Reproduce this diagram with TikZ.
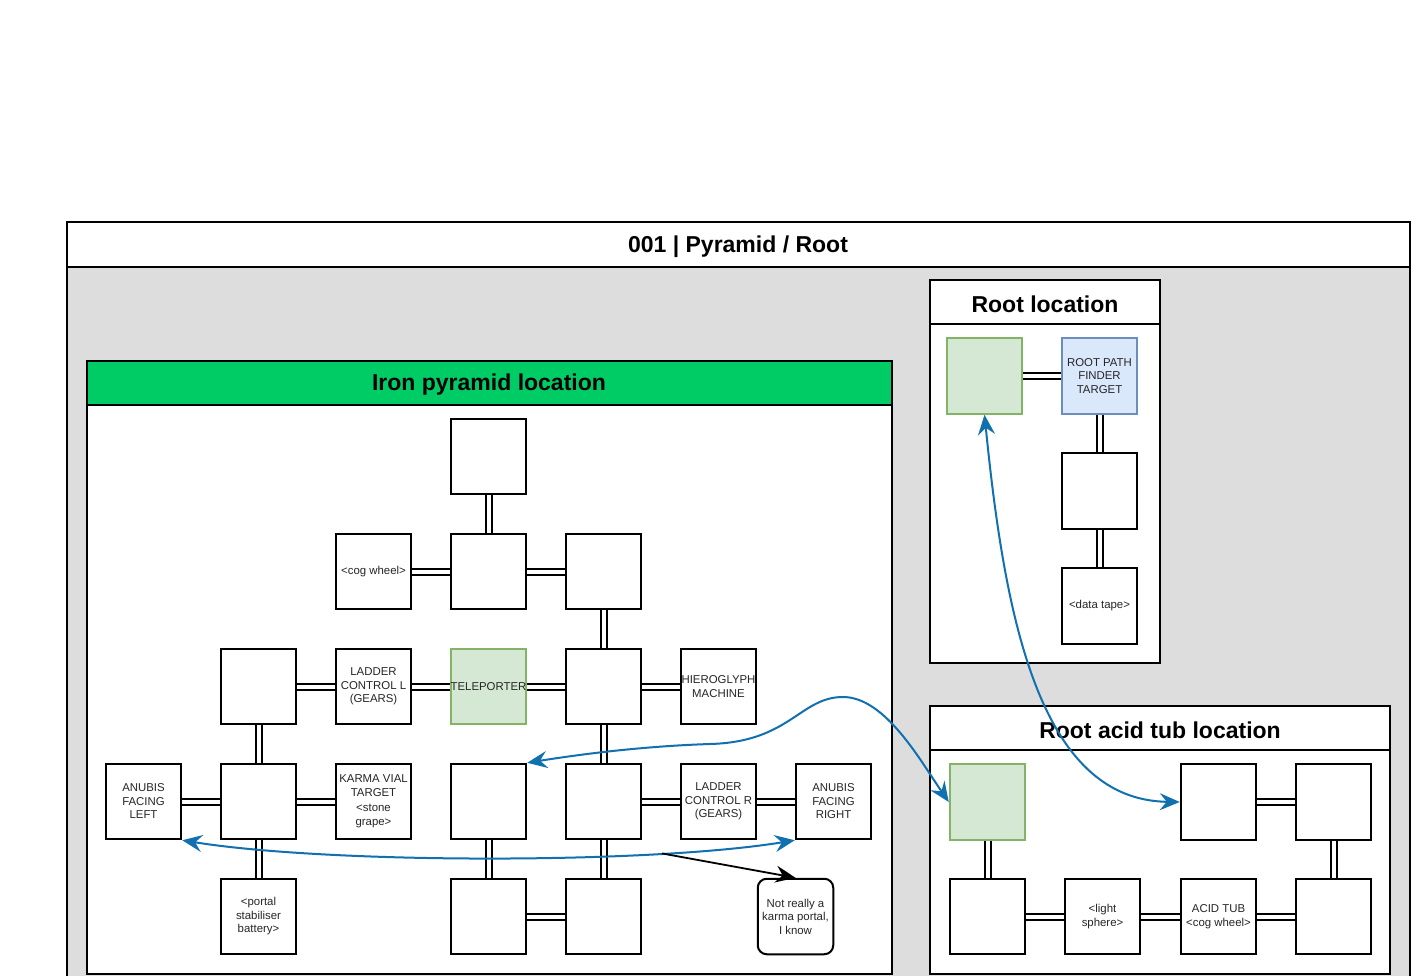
\documentclass[tikz,border=0pt]{standalone}
\usepackage{fontspec}
\setmainfont{Liberation Sans}
\usetikzlibrary{arrows.meta}
\definecolor{framegray}{HTML}{DDDDDD}
\definecolor{irongreen}{HTML}{00CC66}
\definecolor{telefill}{HTML}{D5E8D4}
\definecolor{teledraw}{HTML}{82B366}
\definecolor{targetfill}{HTML}{DAE8FC}
\definecolor{targetdraw}{HTML}{6C8EBF}
\definecolor{jumpblue}{HTML}{1070B0}
\tikzset{
  tip/.tip={Stealth[length=20pt,width=17pt,inset=7pt]},
  room/.style={draw,line width=2pt,fill=white,minimum size=75.5pt,inner sep=0pt,
    align=center,text=black!85,font=\fontsize{11.4}{13.5}\selectfont},
  tele/.style={room,fill=telefill,draw=teledraw},
  target/.style={room,fill=targetfill,draw=targetdraw},
  door/.style={draw=black,line width=2pt,double=white,double distance=4pt},
  jump/.style={tip-tip,jumpblue,line width=2pt},
  heading/.style={font=\fontsize{23}{26}\selectfont\bfseries},
  frame/.style={draw,line width=2pt}
}

\begin{document}
\begin{tikzpicture}[x=1pt,y=-1pt]
  \useasboundingbox (0,0) rectangle (1418,976);
  \clip (0,0) rectangle (1418,976);
  % Outer container
  \draw[frame,fill=white] (67,222) rectangle (1410,267);
  \draw[frame,fill=framegray] (67,267) rectangle (1410,990);
  \node[heading] (title) at (738,247) {001 | Pyramid / Root};
  % Iron pyramid location
  \draw[frame,fill=irongreen] (87,361) rectangle (892,405);
  \draw[frame,fill=white] (87,405) rectangle (892,974);
  \node[heading] (irontitle) at (489,385) {Iron pyramid location};
  % Root location
  \draw[frame,fill=white] (930,280) rectangle (1160,324);
  \draw[frame,fill=white] (930,324) rectangle (1160,663);
  \node[heading] (roottitle) at (1045,304) {Root location};
  % Root acid tub location
  \draw[frame,fill=white] (930,706) rectangle (1390,750);
  \draw[frame,fill=white] (930,750) rectangle (1390,974);
  \node[heading] (acidtitle) at (1160,730) {Root acid tub location};

  % Pyramid rooms
  \node[room] (p1) at (488.5,456.5) {};
  \node[room] (p2a) at (373.5,571.5) {<cog wheel>};
  \node[room] (p2b) at (488.5,571.5) {};
  \node[room] (p2c) at (603.5,571.5) {};
  \node[room] (p3a) at (258.5,686.5) {};
  \node[room] (p3b) at (373.5,686.5) {LADDER\\CONTROL L\\(GEARS)};
  \node[tele] (p3c) at (488.5,686.5) {TELEPORTER};
  \node[room] (p3d) at (603.5,686.5) {};
  \node[room] (p3e) at (718.5,686.5) {HIEROGLYPH\\MACHINE};
  \node[room] (p4a) at (143.5,801.5) {ANUBIS\\FACING\\LEFT};
  \node[room] (p4b) at (258.5,801.5) {};
  \node[room] (p4c) at (373.5,801.5) {KARMA VIAL\\TARGET\\[2pt]<stone\\grape>};
  \node[room] (p4d) at (488.5,801.5) {};
  \node[room] (p4e) at (603.5,801.5) {};
  \node[room] (p4f) at (718.5,801.5) {LADDER\\CONTROL R\\(GEARS)};
  \node[room] (p4g) at (833.5,801.5) {ANUBIS\\FACING\\RIGHT};
  \node[room] (p5a) at (258.5,916.5) {<portal\\stabiliser\\battery>};
  \node[room] (p5b) at (488.5,916.5) {};
  \node[room] (p5c) at (603.5,916.5) {};
  \node[room,rounded corners=9pt] (note) at (795.5,916.5) {Not really a\\karma portal,\\I know};
  \draw[door] (p1) -- (p2b) (p2a) -- (p2b) (p2b) -- (p2c) (p2c) -- (p3d)
    (p3a) -- (p3b) (p3b) -- (p3c) (p3c) -- (p3d) (p3d) -- (p3e)
    (p3a) -- (p4b) (p3d) -- (p4e);
  \draw[door] (p4a) -- (p4b) (p4b) -- (p4c) (p4e) -- (p4f) (p4f) -- (p4g)
    (p4b) -- (p5a) (p4d) -- (p5b) (p4e) -- (p5c) (p5b) -- (p5c);

  % Root rooms
  \node[tele] (rg) at (984.5,376) {};
  \node[target] (rt) at (1099.5,376) {ROOT PATH\\FINDER\\TARGET};
  \node[room] (r2) at (1099.5,491) {};
  \node[room] (r3) at (1099.5,606) {<data tape>};
  \draw[door] (rg) -- (rt) (rt) -- (r2) (r2) -- (r3);

  % Acid tub rooms
  \node[tele] (ag) at (987.5,802) {};
  \node[room] (a1) at (1218.5,802) {};
  \node[room] (a2) at (1333.5,802) {};
  \node[room] (a3) at (987.5,916.5) {};
  \node[room] (a4) at (1102.5,916.5) {<light\\sphere>};
  \node[room] (a5) at (1218.5,916.5) {ACID TUB\\<cog wheel>};
  \node[room] (a6) at (1333.5,916.5) {};
  \draw[door] (ag) -- (a3) (a3) -- (a4) (a4) -- (a5) (a5) -- (a6)
    (a1) -- (a2) (a2) -- (a6);

  % Teleports
  \draw[jump] (p4d.north east) .. controls (620,748) and (680,745) .. (710,744)
    .. controls (790,742) and (800,697) .. (843,697)
    .. controls (885,697) and (920,760) .. (ag.west);
  \draw[jump] (p4a.south east) .. controls (330,864) and (650,864) .. (p4g.south west)
    coordinate[pos=0.755] (kp);
  \draw[jump] (rg.south) .. controls (1005,620) and (1040,800) .. (a1.west);
  % Remark
  \draw[-tip,line width=1.8pt] (kp) -- (note.north);
\end{tikzpicture}
\end{document}
